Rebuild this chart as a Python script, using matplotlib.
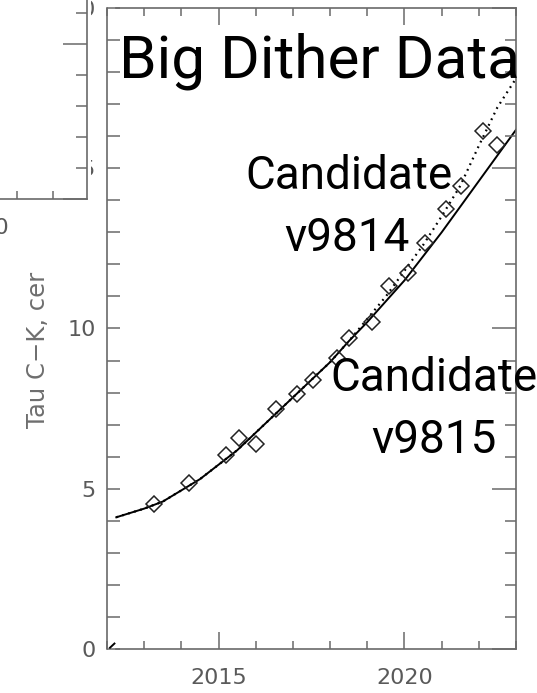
import matplotlib
matplotlib.use('Agg')
import matplotlib.pyplot as plt
from matplotlib.patches import Rectangle
from matplotlib.ticker import MultipleLocator

# data
obs_year = [2013.26, 2014.2, 2015.2, 2015.55, 2016.0, 2016.54, 2017.1, 2017.55, 2018.19,
            2018.51, 2019.14, 2019.59, 2020.1, 2020.55, 2021.13, 2021.52, 2022.12, 2022.49]
obs_tau = [4.53, 5.17, 6.06, 6.58, 6.39, 7.48, 7.97, 8.39, 9.07,
           9.69, 10.21, 11.33, 11.74, 12.68, 13.74, 14.45, 16.17, 15.72]

fit_year = [2012.25, 2012.5, 2013.0, 2013.5, 2014.0, 2014.5, 2015.0, 2015.5, 2016.0, 2016.5,
            2017.0, 2017.5, 2018.0, 2018.5, 2019.0, 2019.5, 2020.0, 2020.5, 2021.0, 2021.5,
            2022.0, 2022.5, 2023.0]
fit_v9815 = [4.11, 4.2, 4.38, 4.6, 4.95, 5.3, 5.75, 6.2, 6.75, 7.3,
             7.85, 8.4, 8.95, 9.6, 10.2, 10.85, 11.5, 12.25, 13.0, 13.8,
             14.6, 15.4, 16.2]
fit_v9814 = [4.11, 4.2, 4.38, 4.6, 4.95, 5.3, 5.75, 6.2, 6.75, 7.3,
             7.85, 8.4, 8.95, 9.6, 10.3, 11.0, 11.8, 12.6, 13.5, 14.45,
             15.7, 16.9, 17.8]
origin_mark_year = [2012.08, 2012.2]
origin_mark_tau = [0.04, 0.17]

W, H = 537, 693
GRAY = '#6a6a6a'

fig = plt.figure(figsize=(W / 100, H / 100), dpi=100)


def fx(x):
    return x / W


def fy(y):
    return 1 - y / H


# main panel
ax = fig.add_axes([fx(107), fy(649), fx(516) - fx(107), fy(8) - fy(649)])
ax.plot(fit_year, fit_v9815, color='black', linewidth=1.4)
ax.plot(fit_year, fit_v9814, color='black', linewidth=1.6, linestyle=(0, (0.8, 2.0)))
ax.plot(obs_year, obs_tau, linestyle='none', marker='D', markersize=8.5,
        markerfacecolor='none', markeredgecolor='#222222', markeredgewidth=1.1)
ax.plot(origin_mark_year, origin_mark_tau, color='black', linewidth=1.4)
ax.set_xlim(2012, 2023)
ax.set_ylim(0, 20)
ax.xaxis.set_major_locator(MultipleLocator(5))
ax.xaxis.set_minor_locator(MultipleLocator(1))
ax.yaxis.set_major_locator(MultipleLocator(5))
ax.yaxis.set_minor_locator(MultipleLocator(1))
ax.tick_params(axis='both', which='both', direction='in', color=GRAY, labelcolor='#5a5a5a',
               labelsize=16, top=True, right=False, width=1.1)
ax.tick_params(axis='x', which='major', length=12, pad=14)
ax.tick_params(axis='x', which='minor', length=6)
ax.tick_params(axis='y', which='both', length=9, pad=8)
for side in ['left', 'right', 'top', 'bottom']:
    ax.spines[side].set_color(GRAY)
    ax.spines[side].set_linewidth(1.2)
ax.spines['bottom'].set_bounds(2012.25, 2023)
ax.spines['top'].set_bounds(2012.25, 2023)

# right side ticks are drawn a bit longer
ax_r = ax.twinx()
ax_r.set_ylim(0, 20)
ax_r.yaxis.set_major_locator(MultipleLocator(5))
ax_r.yaxis.set_minor_locator(MultipleLocator(1))
ax_r.tick_params(axis='y', which='both', direction='in', color=GRAY, labelright=False, width=1.1)
ax_r.tick_params(axis='y', which='major', length=17)
ax_r.tick_params(axis='y', which='minor', length=8)
for side in ['left', 'right', 'top', 'bottom']:
    ax_r.spines[side].set_visible(False)

fig.text(fx(38), fy(350), 'Tau C\u2212K, cer', rotation=90, ha='center', va='center',
         fontsize=17.5, color='#6e6e6e')

# piece of the neighbouring panel at top left
fig.patches.append(Rectangle((0, fy(200)), fx(91), 1 - fy(200), transform=fig.transFigure,
                             facecolor='white', edgecolor='none', zorder=1))
ax_l = fig.add_axes([fx(-300), fy(199), fx(87) - fx(-300), fy(-100) - fy(199)], zorder=2)
ax_l.patch.set_alpha(0)
ax_l.set_xlim(2020 - 281 / 36, 2020 + 106 / 36)
ax_l.set_ylim(0, 299 / 31)
ax_l.xaxis.set_major_locator(MultipleLocator(5))
ax_l.xaxis.set_minor_locator(MultipleLocator(1))
ax_l.yaxis.set_major_locator(MultipleLocator(5))
ax_l.yaxis.set_minor_locator(MultipleLocator(1))
ax_l.tick_params(axis='both', which='both', direction='in', color=GRAY, labelcolor='#5a5a5a',
                 labelsize=16, width=1.1, left=False, labelleft=False, right=True)
ax_l.tick_params(axis='x', which='major', length=12, pad=14)
ax_l.tick_params(axis='x', which='minor', length=6)
ax_l.tick_params(axis='y', which='major', length=17)
ax_l.tick_params(axis='y', which='minor', length=8)
ax_l.xaxis.set_major_formatter(lambda v, p: '%d' % v)
for side in ['left', 'top']:
    ax_l.spines[side].set_visible(False)
for side in ['right', 'bottom']:
    ax_l.spines[side].set_color(GRAY)
    ax_l.spines[side].set_linewidth(1.2)

# overlaid labels
font = ['Roboto', 'DejaVu Sans']
fig.text(fx(119), fy(78), 'Big Dither Data', fontsize=43.5, family=font, va='baseline', ha='left',
         zorder=5)
fig.text(fx(349), fy(189), 'Candidate', fontsize=33, family=font, va='baseline', ha='center', zorder=5)
fig.text(fx(347), fy(251), 'v9814', fontsize=33, family=font, va='baseline', ha='center', zorder=5)
fig.text(fx(434), fy(391), 'Candidate', fontsize=33, family=font, va='baseline', ha='center', zorder=5)
fig.text(fx(434), fy(453), 'v9815', fontsize=33, family=font, va='baseline', ha='center', zorder=5)

fig.savefig('out.png', dpi=100)
